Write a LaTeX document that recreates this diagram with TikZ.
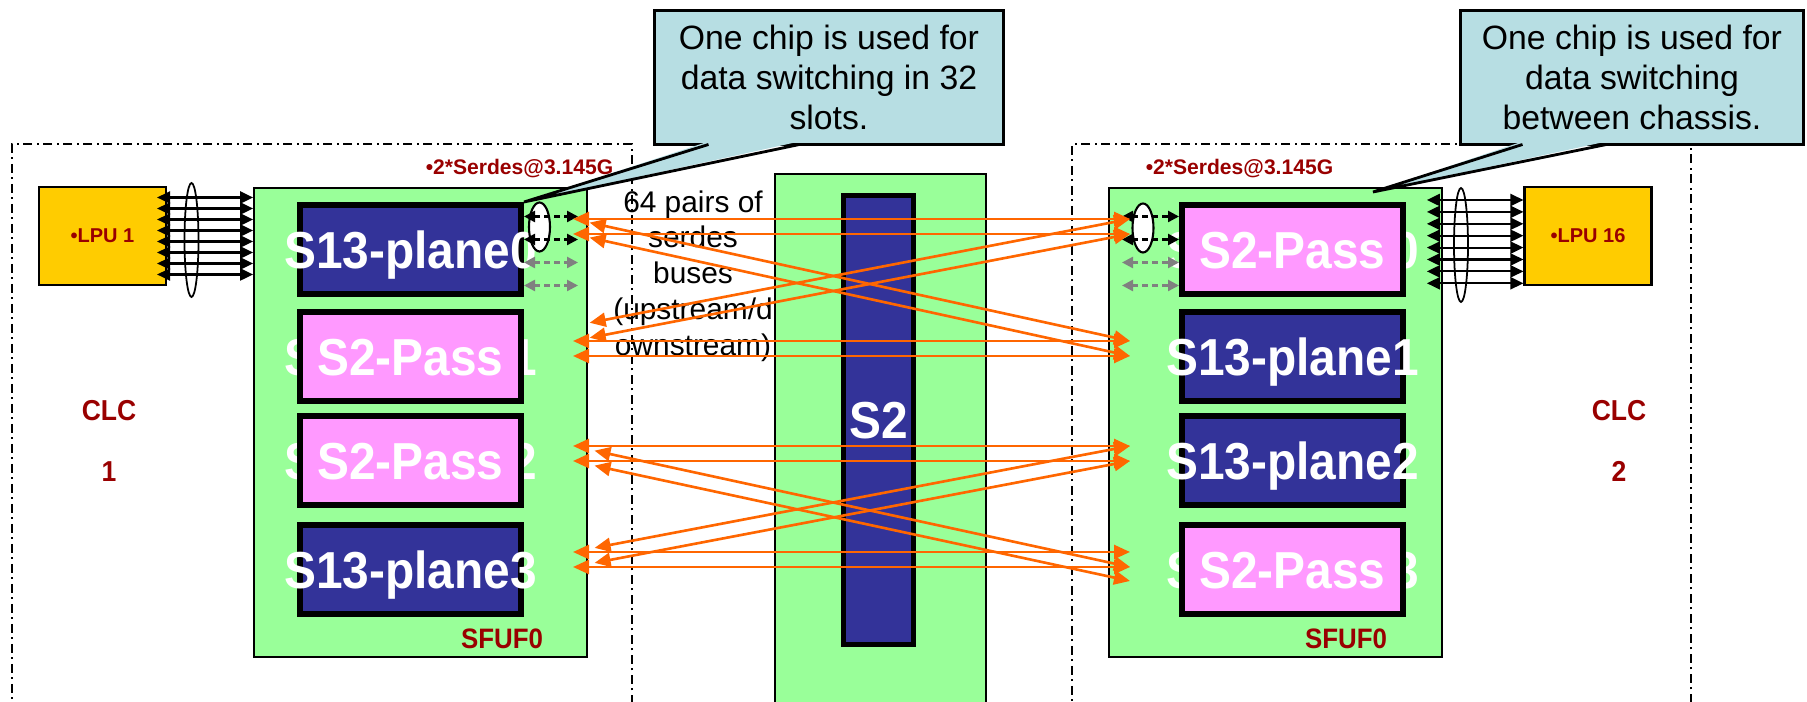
\documentclass[tikz,border=0pt]{standalone}
\usepackage{fontspec}
\setmainfont{Liberation Sans}
\newfontfamily\chipfont[FakeStretch=0.92]{Liberation Sans}
\usetikzlibrary{positioning, shapes.geometric, arrows.meta, calc}
\definecolor{sfufGreen}{HTML}{99FF99}
\definecolor{chipBlue}{HTML}{333399}
\definecolor{chipPink}{HTML}{FF99FF}
\definecolor{lpuGold}{HTML}{FFCC00}
\definecolor{noteTeal}{HTML}{B7DEE3}
\definecolor{labelRed}{HTML}{990000}
\definecolor{serdesOrange}{HTML}{FF6600}
\definecolor{portGrey}{HTML}{808080}

\begin{document}
\begin{tikzpicture}[
    x=0.1mm, y=-0.1mm,
    frame/.style={draw=black, line width=0.6pt, dash pattern=on 0.9mm off 0.45mm on 0.2mm off 0.45mm, minimum height=60mm},
    card/.style={draw=black, line width=0.5pt, fill=sfufGreen, minimum width=33.3mm, minimum height=46.9mm},
    chipPlane/.style={draw=black, line width=0.6mm, fill=chipBlue, minimum width=22.1mm, minimum height=8.9mm, inner sep=0pt},
    chipPass/.style={draw=black, line width=0.6mm, fill=chipPink, minimum width=22.1mm, minimum height=8.9mm, inner sep=0pt},
    chiptext/.style={text=white, inner sep=0pt, text height=10.6pt, text depth=0pt, font=\chipfont\bfseries\fontsize{14.8}{16}\selectfont},
    lpu/.style={draw=black, line width=0.6pt, fill=lpuGold, minimum width=12.7mm, minimum height=9.8mm, text=labelRed, font=\bfseries\fontsize{5.7}{7}\selectfont},
    tag/.style={text=labelRed, inner sep=0pt, font=\bfseries\fontsize{6}{7}\selectfont},
    sfufTag/.style={text=labelRed, inner sep=0pt, font=\chipfont\bfseries\fontsize{8}{9}\selectfont},
    clcTag/.style={text=labelRed, inner sep=0pt, align=center, font=\chipfont\bfseries\fontsize{8.2}{17.4}\selectfont},
    note/.style={draw=black, line width=0.8pt, fill=noteTeal, align=center, inner sep=0pt, outer sep=0pt, font=\fontsize{9.6}{11.4}\selectfont},
    busnote/.style={align=center, inner sep=0pt, font=\fontsize{8.5}{10.2}\selectfont},
    bundle/.style={draw=black, line width=0.5pt, ellipse, inner sep=0pt, minimum width=1.4mm, minimum height=11.4mm},
    portring/.style={draw=black, fill=white, line width=0.6pt, ellipse, inner sep=0pt, minimum width=2.1mm, minimum height=4.9mm},
    buslink/.style={<->, >={Triangle[length=1.3mm, width=1.2mm]}, line width=0.6pt},
    port/.style={<->, >={Triangle[length=1.1mm, width=1.1mm]}, dash pattern=on 0.6mm off 0.4mm, line width=0.7pt},
    serdes/.style={<->, >={Triangle[length=1.6mm, width=1.4mm]}, color=serdesOrange, line width=0.75pt},
]
\useasboundingbox (0,0) rectangle (1807,702);
% chassis frames
\node[frame, minimum width=62mm]   (clcbox1) at (322,444)    {};
\node[frame, minimum width=61.9mm] (clcbox2) at (1381.5,444) {};
% centre S2 board
\node[card, minimum width=21.1mm, minimum height=60mm] (s2card) at (880.5,474) {};
\node[draw=black, line width=0.5mm, fill=chipBlue, minimum width=7mm, minimum height=44.9mm,
      label={[chiptext]center:S2}] (s2bar) at (878.5,420) {};
% SFU boards
\node[card] (sfufL) at (420.5,422.5)  {};
\node[card] (sfufR) at (1275.5,422.5) {};
% left chips
\node[chipPlane, label={[chiptext]center:S13-plane0}] (lp0) at (410.5,249.5) {};
\node[chiptext] (lp1ghost) at (410.5,356.5) {S13-plane1};
\node[chipPass, label={[chiptext]center:S2-Pass}] (lp1) at (410.5,356.5) {};
\node[chiptext] (lp2ghost) at (410.5,461) {S13-plane2};
\node[chipPass, label={[chiptext]center:S2-Pass}] (lp2) at (410.5,461) {};
\node[chipPlane, label={[chiptext]center:S13-plane3}] (lp3) at (410.5,569.5) {};
% right chips
\node[chiptext] (rp0ghost) at (1292.5,249.5) {S13-plane0};
\node[chipPass, label={[chiptext]center:S2-Pass}] (rp0) at (1292.5,249.5) {};
\node[chipPlane, label={[chiptext]center:S13-plane1}] (rp1) at (1292.5,356.5) {};
\node[chipPlane, label={[chiptext]center:S13-plane2}] (rp2) at (1292.5,461) {};
\node[chiptext] (rp3ghost) at (1292.5,569.5) {S13-plane3};
\node[chipPass, label={[chiptext]center:S2-Pass}] (rp3) at (1292.5,569.5) {};
% labels
\node[tag]     (serdesL) at (519.5,169)  {•2*Serdes@3.145G};
\node[tag]     (serdesR) at (1239.5,169) {•2*Serdes@3.145G};
\node[sfufTag] (sfufLtag) at (502,639)   {SFUF0};
\node[sfufTag] (sfufRtag) at (1346,639)  {SFUF0};
\node[clcTag]  (clc1) at (109,441)  {CLC\\1};
\node[clcTag]  (clc2) at (1619,441) {CLC\\2};
% LPUs and their buses
\node[lpu] (lpu1)  at (102.5,236) {•LPU 1};
\node[lpu] (lpu16) at (1588,236)  {•LPU 16};
\foreach \k [evaluate=\k as \d using -38.5+11*\k] in {0,...,7}
    \draw[buslink, shorten <=-1mm] ($(lpu1.east)+(0,\d)$) -- ($(lpu1.east -| sfufL.west)+(0,\d)$);
\foreach \k [evaluate=\k as \d using -36+11.9*\k] in {0,...,7}
    \draw[buslink, shorten <=-1.6mm] ($(lpu16.west -| sfufR.east)+(0,\d)$) -- ($(lpu16.west)+(0,\d)$);
\node[bundle] (bundleL) at (191.5,240) {};
\node[bundle] (bundleR) at (1461,245)  {};
% serdes ports next to the chips
\node[portring] (ringL) at (539.5,227) {};
\node[portring] (ringR) at (1143,228)  {};
\foreach \d/\col in {-33/black, -10/black, 13/portGrey, 36/portGrey} {
    \draw[port, color=\col] ($(lp0.east)+(0,\d)$) -- ($(lp0.east)+(54,\d)$);
    \draw[port, color=\col] ($(rp0.west)+(-57,\d)$) -- ($(rp0.west)+(0,\d)$);
}
\node[busnote] (pairs) at (693,276) {64 pairs of\\serdes\\buses\\(upstream/d\\ownstream)};
% serdes buses through S2
\coordinate (la1) at (573,219);  \coordinate (ra1) at (1130,219);
\coordinate (la2) at (573,234);  \coordinate (ra2) at (1130,234);
\coordinate (lb0) at (573,326);
\coordinate (lb1) at (573,341);  \coordinate (rb1) at (1130,341);
\coordinate (lb2) at (573,356);  \coordinate (rb2) at (1130,356);
\coordinate (lc1) at (573,446);  \coordinate (rc1) at (1130,446);
\coordinate (lc2) at (573,461);  \coordinate (rc2) at (1130,461);
\coordinate (ld1) at (573,552);  \coordinate (rd1) at (1130,552);
\coordinate (ld2) at (573,567);  \coordinate (rd2) at (1130,567);
\coordinate (rd3) at (1130,581);
\draw[serdes] (la1) -- (ra1);
\draw[serdes] (la2) -- (ra2);
\draw[serdes] (lb1) -- (rb1);
\draw[serdes] (lb2) -- (rb2);
\draw[serdes] (lc1) -- (rc1);
\draw[serdes] (lc2) -- (rc2);
\draw[serdes] (ld1) -- (rd1);
\draw[serdes] (ld2) -- (rd2);
\draw[serdes, shorten <=1.7mm] (la1) -- (rb1);
\draw[serdes, shorten <=1.7mm] (la2) -- (rb2);
\draw[serdes, shorten <=1.7mm] (lb0) -- (ra1);
\draw[serdes, shorten <=1.7mm] (lb1) -- (ra2);
\draw[serdes, shorten <=2.2mm] (lc1) -- (rd2);
\draw[serdes, shorten <=2.2mm] (lc2) -- (rd3);
\draw[serdes, shorten <=2.2mm] (ld1) -- (rc1);
\draw[serdes, shorten <=2.2mm] (ld2) -- (rc2);
% callouts
\node[note, minimum width=34.9mm, minimum height=13.4mm] (note1) at (829,77.5)  {One chip is used for\\data switching in 32\\slots.};
\node[note, minimum width=34.3mm, minimum height=13.4mm] (note2) at (1632,77.5) {One chip is used for\\data switching\\between chassis.};
\coordinate (tip2) at (1373,192);
\fill[noteTeal] ($(note1.south west)+(54,-3)$) -- (lp0.north east) -- ($(note1.south west)+(145,-3)$) -- cycle;
\draw[line width=0.8pt] ($(note1.south west)+(54,0)$) -- (lp0.north east) -- ($(note1.south west)+(145,0)$);
\fill[noteTeal] ($(note2.south west)+(62,-3)$) -- (tip2) -- ($(note2.south west)+(146,-3)$) -- cycle;
\draw[line width=0.8pt] ($(note2.south west)+(62,0)$) -- (tip2) -- ($(note2.south west)+(146,0)$);
\end{tikzpicture}
\end{document}
